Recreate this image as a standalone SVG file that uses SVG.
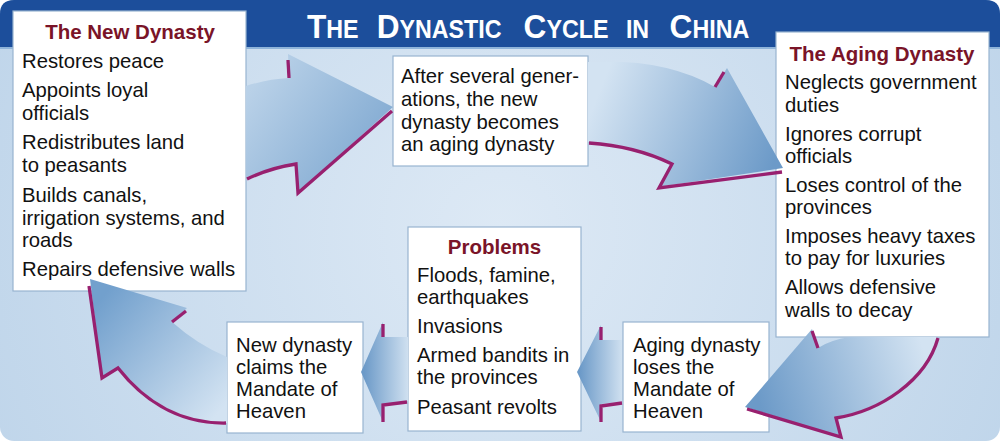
<svg xmlns="http://www.w3.org/2000/svg" width="1008" height="444" viewBox="0 0 1008 444">
<defs>
<style>
.box{fill:#ffffff;stroke:#98b4d0;stroke-width:1.2}
.t{font-family:"Liberation Sans",Arial,sans-serif;font-size:20.3px;fill:#111111}
.h{font-family:"Liberation Sans",Arial,sans-serif;font-size:20.5px;font-weight:bold;fill:#7a1428;text-anchor:middle}
.title{font-family:"Liberation Sans",Arial,sans-serif;font-weight:bold;fill:#ffffff}
.big{font-size:34px}
.sm{font-size:25px}
.mg{fill:none;stroke:#98206f;stroke-width:3.3;stroke-linejoin:miter}
</style>
<radialGradient id="bg" cx="500" cy="230" r="620" gradientUnits="userSpaceOnUse">
<stop offset="0" stop-color="#dde9f5"/>
<stop offset="1" stop-color="#bcd3e9"/>
</radialGradient>
<linearGradient id="g1" gradientUnits="userSpaceOnUse" x1="250" y1="90" x2="370" y2="175">
<stop offset="0" stop-color="#b9d1e8"/>
<stop offset="1" stop-color="#80a9d1"/>
</linearGradient>
<linearGradient id="g2" gradientUnits="userSpaceOnUse" x1="600" y1="90" x2="775" y2="160">
<stop offset="0" stop-color="#d3e3f2"/>
<stop offset="1" stop-color="#6c9ac8"/>
</linearGradient>
<linearGradient id="g3" gradientUnits="userSpaceOnUse" x1="925" y1="355" x2="760" y2="405">
<stop offset="0" stop-color="#d3e3f2"/>
<stop offset="1" stop-color="#6c9ac8"/>
</linearGradient>
<linearGradient id="g4" gradientUnits="userSpaceOnUse" x1="622" y1="372" x2="580" y2="372">
<stop offset="0" stop-color="#cfe0f0"/>
<stop offset="1" stop-color="#6c9ac8"/>
</linearGradient>
<linearGradient id="g5" gradientUnits="userSpaceOnUse" x1="408" y1="372" x2="364" y2="372">
<stop offset="0" stop-color="#cfe0f0"/>
<stop offset="1" stop-color="#6c9ac8"/>
</linearGradient>
<linearGradient id="g6" gradientUnits="userSpaceOnUse" x1="225" y1="405" x2="100" y2="300">
<stop offset="0" stop-color="#d3e3f2"/>
<stop offset="1" stop-color="#72a0cd"/>
</linearGradient>
</defs>

<g id="background">
<rect x="0" y="0" width="1000" height="441" rx="14" fill="url(#bg)"/>
<path d="M0,14 Q0,0 14,0 H986 Q1000,0 1000,14 V48 H0 Z" fill="#1c4e9b"/>
<rect x="0" y="47" width="1000" height="2" fill="#8fb4da"/>
<text class="title" y="38" transform="scale(0.93,1)"><tspan x="330"><tspan class="big">T</tspan><tspan class="sm">HE </tspan></tspan><tspan x="405"><tspan class="big">D</tspan><tspan class="sm">YNASTIC </tspan></tspan><tspan x="563"><tspan class="big">C</tspan><tspan class="sm">YCLE </tspan></tspan><tspan x="673" class="sm">IN </tspan><tspan x="720"><tspan class="big">C</tspan><tspan class="sm">HINA</tspan></tspan></text>
</g>

<g id="node-new-dynasty">
<rect class="box" x="13" y="11" width="233" height="280"/>
<text class="h" x="130" y="39">The New Dynasty</text>
<text class="t" x="22" y="68">Restores peace</text>
<text class="t" x="22" y="97">Appoints loyal</text>
<text class="t" x="22" y="120">officials</text>
<text class="t" x="22" y="149">Redistributes land</text>
<text class="t" x="22" y="172">to peasants</text>
<text class="t" x="22" y="202">Builds canals,</text>
<text class="t" x="22" y="224.5">irrigation systems, and</text>
<text class="t" x="22" y="247">roads</text>
<text class="t" x="22" y="276">Repairs defensive walls</text>
</g>

<g id="node-after">
<rect class="box" x="393" y="56" width="195" height="110"/>
<text class="t" x="401" y="83">After several gener-</text>
<text class="t" x="401" y="106">ations, the new</text>
<text class="t" x="401" y="129">dynasty becomes</text>
<text class="t" x="401" y="151">an aging dynasty</text>
</g>

<g id="node-aging-dynasty">
<rect class="box" x="776" y="32" width="213" height="305"/>
<text class="h" x="882" y="61">The Aging Dynasty</text>
<text class="t" x="785" y="89">Neglects government</text>
<text class="t" x="785" y="112">duties</text>
<text class="t" x="785" y="141">Ignores corrupt</text>
<text class="t" x="785" y="163">officials</text>
<text class="t" x="785" y="192">Loses control of the</text>
<text class="t" x="785" y="214">provinces</text>
<text class="t" x="785" y="243">Imposes heavy taxes</text>
<text class="t" x="785" y="265">to pay for luxuries</text>
<text class="t" x="785" y="294">Allows defensive</text>
<text class="t" x="785" y="317">walls to decay</text>
</g>

<g id="node-loses-mandate">
<rect class="box" x="623" y="322" width="146" height="110"/>
<text class="t" x="633" y="352">Aging dynasty</text>
<text class="t" x="633" y="374">loses the</text>
<text class="t" x="633" y="396">Mandate of</text>
<text class="t" x="633" y="418">Heaven</text>
</g>

<g id="node-problems">
<rect class="box" x="408" y="227" width="173" height="204"/>
<text class="h" x="494.5" y="254">Problems</text>
<text class="t" x="417" y="282">Floods, famine,</text>
<text class="t" x="417" y="304">earthquakes</text>
<text class="t" x="417" y="333">Invasions</text>
<text class="t" x="417" y="362">Armed bandits in</text>
<text class="t" x="417" y="384">the provinces</text>
<text class="t" x="417" y="414">Peasant revolts</text>
</g>

<g id="node-claims-mandate">
<rect class="box" x="227" y="322" width="136" height="111"/>
<text class="t" x="236" y="352">New dynasty</text>
<text class="t" x="236" y="374">claims the</text>
<text class="t" x="236" y="396">Mandate of</text>
<text class="t" x="236" y="418">Heaven</text>
</g>

<g id="connectors">
<g id="arrow-new-to-after">
<path d="M246,86 Q268,79 289,78 L288,54 L393,107 L298,193 L297,163 Q270,167 246,178 Z" fill="url(#g1)"/>
<path class="mg" d="M288,60 L289,78"/>
<path class="mg" d="M247,179 Q270,168 296,164 L298,193 L392,111"/>
</g>
<g id="arrow-after-to-aging">
<path d="M588,62 Q665,58 715,87 L727,68 L783,168 L658,187 L672,163 Q632,146 588,142 Z" fill="url(#g2)"/>
<path class="mg" d="M724,72 L715,87"/>
<path class="mg" d="M589,143 Q635,146 672,164 L659,188 L782,172"/>
</g>
<g id="arrow-aging-to-loses">
<path d="M850,337 Q830,340 818,348 L812,329 L745,407 L842,437 L836,417 C880,410 925,380 937,337 Z" fill="url(#g3)"/>
<path class="mg" d="M812,331 L818,348"/>
<path class="mg" d="M747,409 L841,437 L836,418 C880,411 926,381 938,338"/>
</g>
<g id="arrow-loses-to-problems">
<path d="M622,340 L601,340 L601,325 L577,372 L601,422 L601,404 L622,402 Z" fill="url(#g4)"/>
<path class="mg" d="M601,327 L601,340"/>
<path class="mg" d="M622,403 L601,406 L601,422"/>
</g>
<g id="arrow-problems-to-claims">
<path d="M408,337 L383,337 L383,322 L361,372 L383,422 L383,405 L408,401 Z" fill="url(#g5)"/>
<path class="mg" d="M383,324 L383,337"/>
<path class="mg" d="M407,402 L383,405 L383,422"/>
</g>
<g id="arrow-claims-to-new">
<path d="M227,357 Q198,345 172,322 L187,308 L90,279 L102,378 L118,367 C140,395 175,423 227,423 Z" fill="url(#g6)"/>
<path class="mg" d="M186,311 L172,322"/>
<path class="mg" d="M89,286 L102,378 L118,368 C140,396 175,424 226,423"/>
</g>
</g>
</svg>
